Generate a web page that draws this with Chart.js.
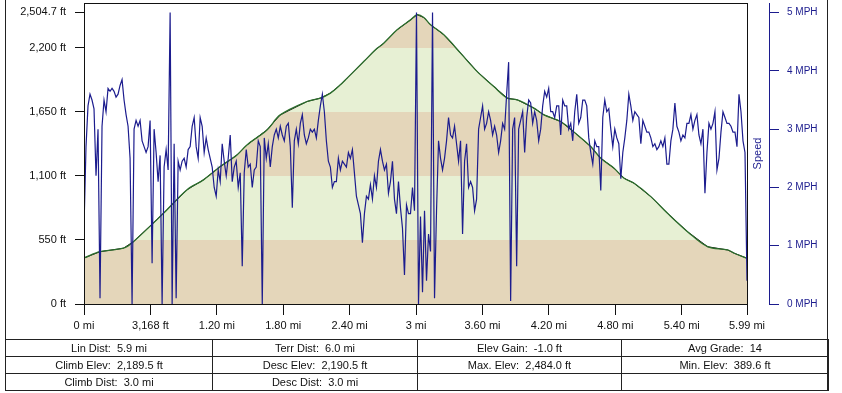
<!DOCTYPE html>
<html>
<head>
<meta charset="utf-8">
<title>Elevation / speed profile</title>
<script src="https://cdn.jsdelivr.net/npm/chart.js@4.4.0/dist/chart.umd.min.js"></script>
<style>
    html, body { margin: 0; padding: 0; background: #fff; }
    #wrap { position: relative; width: 842px; height: 393px; overflow: hidden; }
    #profileChart { position: absolute; left: 0; top: 0; }
    #frame { position: absolute; left: 5px; top: -2px; width: 823px; height: 393px; box-sizing: border-box; border: 1px solid #222; pointer-events: none; }
    table.stats { position: absolute; left: 5px; top: 339px; width: 823px; border-collapse: collapse; table-layout: fixed;
        font: 11px "Liberation Sans", Arial, sans-serif; color: #111; }
    table.stats td { border: 1px solid #222; height: 16px; padding: 0; text-align: center; white-space: pre; }
</style>
</head>
<body>
<div id="wrap">
    <canvas id="profileChart" width="842" height="393"></canvas>
    <div id="frame"></div>
    <table class="stats" id="stats">
        <colgroup><col style="width:207px"><col style="width:205px"><col style="width:204px"><col style="width:207px"></colgroup>
        <tbody></tbody>
    </table>
</div>
<script>
// --- data ---

// elevation profile (distance in miles, elevation in feet)
const elevMiles = [0, 0.145, 0.356, 0.446, 0.718, 0.929, 1.079, 1.231, 1.382, 1.472, 1.653, 1.773, 2.015, 2.135,
    2.226, 2.316, 2.377, 2.527, 2.633, 2.708, 2.829, 2.95, 3.01, 3.07, 3.131, 3.251, 3.402, 3.553, 3.703,
    3.825, 3.915, 4.065, 4.156, 4.307, 4.458, 4.578, 4.669, 4.789, 4.88, 4.97, 5.121, 5.272, 5.453, 5.634,
    5.815, 5.875, 5.99];
const elevFeet = [395, 449, 479, 535, 779, 980, 1066, 1180, 1280, 1366, 1495, 1624, 1739, 1768,
    1811, 1882, 1940, 2082, 2183, 2240, 2355, 2440, 2484, 2460, 2398, 2312, 2155, 1996, 1867,
    1768, 1753, 1682, 1624, 1567, 1452, 1352, 1252, 1166, 1080, 1037, 922, 779, 621, 492,
    464, 436, 393];

// speed samples (MPH), evenly spaced from 0 to 5.99 mi
const speedMph = [
    1.3, 2.7, 3.4, 3.6, 3.5, 3.35, 2.2, 3.0, 0.1, 3.05,
    3.5, 3.3, 3.7, 3.65, 3.7, 3.65, 3.55, 3.6, 3.75, 3.85,
    3.5, 3.25, 3.05, 2.5, 0.0, 3.0, 3.15, 3.05, 3.15, 2.8,
    2.7, 2.6, 2.7, 3.15, 0.7, 3.0, 2.6, 2.1, 2.55, 0.0,
    2.35, 2.65, 2.3, 5.0, 0.0, 2.75, 0.1, 2.45, 2.3, 2.45,
    2.5, 2.35, 2.65, 2.7, 3.05, 3.2,
    2.7, 2.5, 3.2, 3.05, 2.6, 2.85, 2.65, 2.5, 2.35, 2.0,
    1.85, 2.3, 2.1, 2.75, 2.45, 2.2, 2.5, 2.9, 2.1, 2.35,
    2.45, 2.0, 2.25, 0.65, 2.25, 2.65, 2.35, 2.4, 2.0, 2.3,
    2.35, 2.8, 2.7, 0.0, 2.85, 2.5, 2.75, 2.35, 2.7, 2.9,
    3.0, 2.85, 3.05, 2.9, 2.8, 3.05, 3.1, 2.7, 1.65, 2.8,
    3.0, 2.75, 3.1, 3.25,
    2.9, 2.75, 2.85, 3.0, 2.95, 3.0, 2.85, 3.15, 3.4, 3.6,
    3.3, 2.8, 2.45, 2.35, 2.0, 2.1, 2.1, 2.5, 2.3, 2.45,
    2.4, 2.35, 2.6, 2.5, 2.65, 2.25, 1.85, 1.7, 1.55, 1.05,
    1.55, 1.85, 1.8, 2.05, 1.8, 2.2, 2.0, 2.45, 2.65, 2.45,
    2.3, 2.4, 1.9, 2.1, 2.45, 1.8, 1.55, 2.1, 1.65, 1.3,
    0.5, 1.7, 1.55, 1.55, 2.0,
    1.6, 5.0, 0.0, 1.5, 0.2, 1.6, 0.4, 1.2, 0.9, 5.0,
    0.1, 1.6, 2.8, 2.5, 2.3, 2.5, 2.8, 3.2, 2.9, 2.85,
    3.05, 2.75, 2.45, 2.8, 1.2, 2.45, 2.75, 2.0, 2.1, 2.0,
    1.6, 1.8, 3.0, 3.2, 3.4, 3.0, 3.1, 3.3, 3.15, 2.9,
    3.05, 2.9, 2.6, 2.8, 3.1, 3.0, 3.6, 4.15, 0.05, 3.0,
    3.2, 0.65, 3.0, 3.15, 3.3,
    2.6, 3.2, 3.5, 3.45, 3.1, 3.3, 3.15, 2.8, 3.0, 3.4,
    3.65, 3.55, 3.7, 3.3, 3.3, 3.2, 3.4, 3.4, 2.9, 3.5,
    3.4, 3.4, 3.0, 3.1, 2.8, 3.3, 3.6, 3.1, 3.2, 3.5,
    3.5, 3.4, 2.85, 2.6, 2.4, 2.8, 2.7, 2.7, 1.95, 3.2,
    3.5, 3.3, 3.35, 3.0, 2.7, 3.0, 2.85, 2.75, 2.15, 2.6,
    2.85, 3.15, 3.6, 3.4, 3.15,
    3.3, 3.25, 3.2, 2.75, 3.15, 3.05, 2.95, 2.95, 2.85, 2.7,
    2.75, 2.65, 2.7, 2.8, 2.7, 2.85, 2.4, 2.4, 2.8, 3.0,
    3.45, 3.05, 2.95, 2.8, 2.9, 2.85, 3.1, 3.1, 3.25, 3.0,
    3.15, 3.25, 2.9, 2.75, 3.0, 1.9, 2.6, 3.1, 3.0, 3.1,
    3.3, 2.3, 2.5, 2.95, 3.3, 3.2, 3.1, 3.1, 3.05, 2.95,
    2.95, 2.7, 3.6, 3.3, 2.8, 2.6, 0.4
];
const trackMiles = 5.99;

// axis ticks
const xTickMiles = [0, 0.6, 1.2, 1.8, 2.4, 3.0, 3.6, 4.2, 4.8, 5.4, 5.99];
const xTickLabels = ['0 mi', '3,168 ft', '1.20 mi', '1.80 mi', '2.40 mi', '3 mi', '3.60 mi', '4.20 mi', '4.80 mi', '5.40 mi', '5.99 mi'];
const elevTicks = [0, 550, 1100, 1650, 2200, 2504.7];
const elevTickLabels = ['0 ft', '550 ft', '1,100 ft', '1,650 ft', '2,200 ft', '2,504.7 ft'];
const speedTicks = [0, 1, 2, 3, 4, 5];
const speedTickLabels = ['0 MPH', '1 MPH', '2 MPH', '3 MPH', '4 MPH', '5 MPH'];

// elevation bands behind the profile (every 550 ft)
const bandEdgesFt = [0, 550, 1100, 1650, 2200, 2600];
const bandColors = ['#e4d6ba', '#e7f0d4'];

// summary table under the chart
const statsRows = [
    ['Lin Dist:  5.9 mi', 'Terr Dist:  6.0 mi', 'Elev Gain:  -1.0 ft', 'Avg Grade:  14'],
    ['Climb Elev:  2,189.5 ft', 'Desc Elev:  2,190.5 ft', 'Max. Elev:  2,484.0 ft', 'Min. Elev:  389.6 ft'],
    ['Climb Dist:  3.0 mi', 'Desc Dist:  3.0 mi', '', '']
];

const NAVY = '#1c1c8e';
const FONT = '"Liberation Sans", Arial, sans-serif';

// --- helpers ---

function bandFill(context) {
    const chart = context.chart;
    const area = chart.chartArea;
    if (!area) return 'transparent';
    const yScale = chart.scales.y;
    const span = area.bottom - area.top;
    const clamp = v => Math.min(1, Math.max(0, v));
    const grad = chart.ctx.createLinearGradient(0, area.bottom, 0, area.top);
    for (let i = 0; i < bandEdgesFt.length - 1; i++) {
        const from = clamp((area.bottom - yScale.getPixelForValue(bandEdgesFt[i])) / span);
        const to = clamp((area.bottom - yScale.getPixelForValue(bandEdgesFt[i + 1])) / span);
        grad.addColorStop(from, bandColors[i % 2]);
        grad.addColorStop(to, bandColors[i % 2]);
    }
    return grad;
}

function fixedTicks(values) {
    return scale => { scale.ticks = values.map(v => ({ value: v })); };
}

// fixed box size, and no extra label padding pushed onto the plot area
function fixedSize(prop, size) {
    return scale => {
        scale[prop] = size;
        scale.paddingTop = scale.paddingBottom = scale.paddingLeft = scale.paddingRight = 0;
    };
}

// plot frame + the "Speed" caption between plot and right axis
const frameAndCaption = {
    id: 'frameAndCaption',
    afterDatasetsDraw(chart) {
        const { ctx, chartArea: a } = chart;
        ctx.save();
        ctx.strokeStyle = '#111';
        ctx.lineWidth = 1;
        ctx.strokeRect(a.left + 0.5, a.top + 0.5, a.right - a.left, a.bottom - a.top);
        ctx.translate(a.right + 11, (a.top + a.bottom) / 2);
        ctx.rotate(-Math.PI / 2);
        ctx.fillStyle = NAVY;
        ctx.font = '11px ' + FONT;
        ctx.textAlign = 'center';
        ctx.textBaseline = 'middle';
        ctx.fillText('Speed', 0, 0);
        ctx.restore();
    }
};

function buildStatsTable() {
    const body = document.querySelector('#stats tbody');
    statsRows.forEach(row => {
        const tr = document.createElement('tr');
        row.forEach(text => {
            const td = document.createElement('td');
            td.textContent = text;
            tr.appendChild(td);
        });
        body.appendChild(tr);
    });
}

// --- chart ---

function initProfileChart(canvasId) {
    const ctx = document.getElementById(canvasId).getContext('2d');
    const speedStep = trackMiles / (speedMph.length - 1);
    const elevPoints = elevMiles.map((m, i) => ({ x: m, y: elevFeet[i] }));

    return new Chart(ctx, {
        type: 'line',
        data: {
            datasets: [{
                label: 'Speed',
                data: speedMph.map((v, i) => ({ x: i * speedStep, y: v })),
                xAxisID: 'x',
                yAxisID: 'y2',
                borderColor: NAVY,
                borderWidth: 1.2,
                pointRadius: 0,
                fill: false,
                order: 0
            }, {
                label: 'Elevation (raw)',
                data: elevPoints,
                xAxisID: 'x',
                yAxisID: 'y',
                borderColor: '#111',
                borderWidth: 1,
                pointRadius: 0,
                fill: 'origin',
                backgroundColor: bandFill,
                order: 2
            }, {
                label: 'Elevation',
                data: elevPoints,
                xAxisID: 'x',
                yAxisID: 'y',
                borderColor: '#2c6e2c',
                borderWidth: 1.3,
                tension: 0.35,
                pointRadius: 0,
                fill: false,
                order: 1
            }]
        },
        options: {
            responsive: false,
            animation: false,
            events: [],
            layout: { padding: { top: 3, left: 0, right: 15, bottom: 54 } },
            plugins: { legend: { display: false }, tooltip: { enabled: false } },
            scales: {
                x: {
                    type: 'linear',
                    position: 'bottom',
                    min: 0,
                    max: trackMiles,
                    afterBuildTicks: fixedTicks(xTickMiles),
                    afterFit: fixedSize('height', 35),
                    grid: { drawOnChartArea: false, drawTicks: true, tickLength: 11, color: '#111' },
                    border: { display: true, color: '#111' },
                    ticks: {
                        autoSkip: false, maxRotation: 0, padding: 4,
                        color: '#111', font: { family: FONT, size: 11 },
                        callback: (v, i) => xTickLabels[i]
                    }
                },
                y: {
                    type: 'linear',
                    position: 'left',
                    min: 0,
                    max: 2585,
                    afterBuildTicks: fixedTicks(elevTicks),
                    afterFit: fixedSize('width', 84),
                    grid: { drawOnChartArea: false, drawTicks: true, tickLength: 9, color: '#111' },
                    border: { display: true, color: '#111' },
                    ticks: {
                        padding: 9, color: '#111', font: { family: FONT, size: 11 },
                        callback: (v, i) => elevTickLabels[i]
                    }
                },
                gap: {
                    type: 'linear',
                    position: 'right',
                    weight: 0,
                    display: true,
                    afterFit: fixedSize('width', 22),
                    grid: { display: false, drawTicks: false },
                    border: { display: false },
                    ticks: { display: false }
                },
                y2: {
                    type: 'linear',
                    position: 'right',
                    weight: 1,
                    min: 0,
                    max: 5.165,
                    afterBuildTicks: fixedTicks(speedTicks),
                    afterFit: fixedSize('width', 58),
                    grid: { drawOnChartArea: false, drawTicks: true, tickLength: 10, color: NAVY },
                    border: { display: true, color: NAVY },
                    ticks: {
                        padding: 8, color: NAVY, font: { family: FONT, size: 10 },
                        callback: (v, i) => speedTickLabels[i]
                    }
                }
            }
        },
        plugins: [frameAndCaption]
    });
}

buildStatsTable();
initProfileChart('profileChart');
</script>
</body>
</html>
